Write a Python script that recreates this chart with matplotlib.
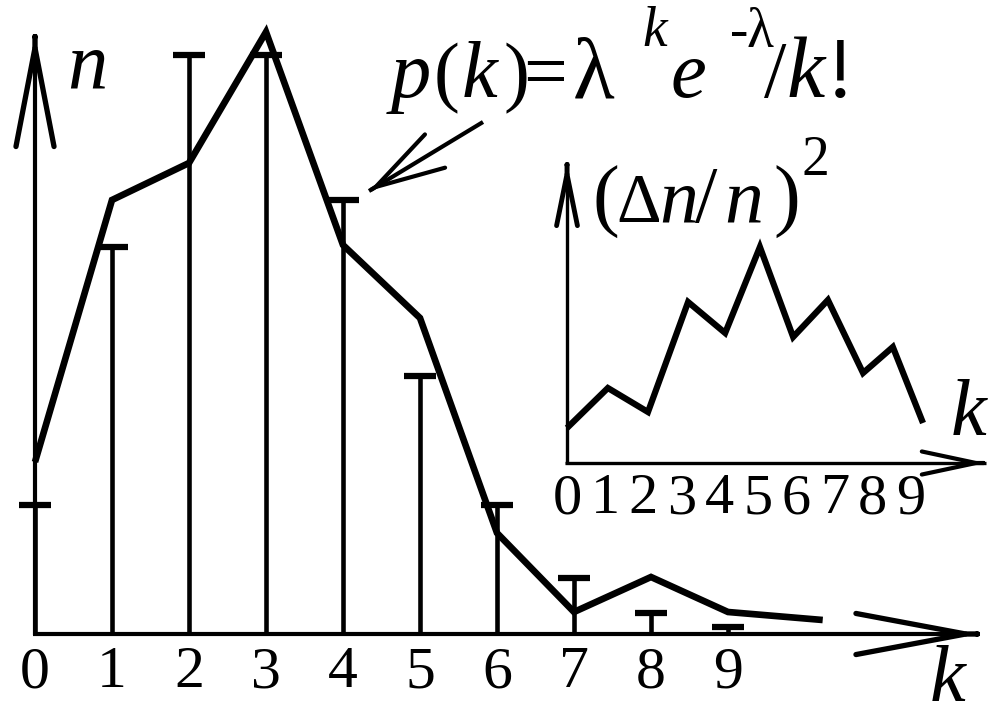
import numpy as np
import matplotlib.pyplot as plt

# main chart: counts n(k) (bars with caps) and Poisson curve p(k)
k_bars = [0, 1, 2, 3, 4, 5, 6, 7, 8, 9]
n_bars = [1.28, 3.86, 5.78, 5.78, 4.33, 2.57, 1.28, 0.55, 0.20, 0.06]
k_curve = [0, 1, 2, 3, 4, 5, 6, 7, 8, 9, 10.23]
n_curve = [1.71, 4.33, 4.70, 6.01, 3.88, 3.15, 1.00, 0.21, 0.56, 0.21, 0.13]
main_ticks = [0, 1, 2, 3, 4, 5, 6, 7, 8, 9]

# inset: relative fluctuation (dn/n)^2
inset_k = [0, 1.07, 2.12, 3.17, 4.14, 5.05, 5.92, 6.83, 7.75, 8.53, 9.32]
inset_v = [0.34, 0.74, 0.50, 1.60, 1.29, 2.15, 1.25, 1.62, 0.89, 1.15, 0.39]
inset_ticks = [0, 1, 2, 3, 4, 5, 6, 7, 8, 9]

W, H = 989, 714
SERIF = 'Liberation Serif'

fig = plt.figure(figsize=(W / 100, H / 100), dpi=100)
fig.patch.set_facecolor('white')

# main axes, scaled so that the data sits where the sketch puts it
ax = fig.add_axes([0, 0, 1, 1])
ax.set_xlim(-35 / 77, (W - 35) / 77)
ax.set_ylim(-(H - 633) / 100, 633 / 100)
ax.axis('off')

ax.vlines(k_bars, 0, n_bars, color='black', lw=3.3)
ax.hlines(n_bars, np.array(k_bars) - 0.21, np.array(k_bars) + 0.21, color='black', lw=4.5)
ax.plot(k_curve, n_curve, color='black', lw=4.8, solid_joinstyle='miter', solid_capstyle='butt')
for t in main_ticks:
    ax.text(t, -0.54, str(t), ha='center', va='baseline', fontsize=43, family=SERIF)

# inset axes
ins = fig.add_axes([0, 0, 1, 1])
ins.set_xlim(-567 / 38.2, (W - 567) / 38.2)
ins.set_ylim(-(H - 462) / 100, 462 / 100)
ins.axis('off')
ins.patch.set_alpha(0)
ins.plot(inset_k, inset_v, color='black', lw=4.5, solid_joinstyle='miter', solid_capstyle='butt')
for t in inset_ticks:
    ins.text(t, -0.51, str(t), ha='center', va='baseline', fontsize=42, family=SERIF)

# overlay in pixel coordinates for axis arrows and labels
ov = fig.add_axes([0, 0, 1, 1])
ov.set_xlim(0, W)
ov.set_ylim(H, 0)
ov.axis('off')
ov.patch.set_alpha(0)


def arrow(tip, tail, lw, head_lw, hl, hw):
    # shaft, then an open head drawn a little heavier
    ov.plot([tail[0], tip[0]], [tail[1], tip[1]], color='black', lw=lw, solid_capstyle='butt')
    d = np.array(tip, float) - np.array(tail, float)
    d /= np.hypot(*d)
    start = np.array(tip) - d * 3
    ov.annotate('', xy=tip, xytext=tuple(start),
                arrowprops=dict(arrowstyle='->,head_length=%g,head_width=%g' % (hl, hw),
                                lw=head_lw, color='black', shrinkA=0, shrinkB=0,
                                mutation_scale=10))


arrow((35, 34), (35, 635), 3.0, 3.8, 7.1, 1.37)
arrow((980, 634), (33, 634), 3.0, 3.8, 7.9, 1.48)
arrow((567, 162), (567, 464), 2.4, 3.5, 3.7, 0.75)
arrow((986, 463), (565, 463), 2.4, 3.0, 3.9, 0.83)
arrow((369, 191), (483, 122), 3.0, 3.0, 5.0, 1.4)


def txt(x, y, s, size, italic=False):
    ov.text(x, y, s, fontsize=size, family=SERIF, style='italic' if italic else 'normal',
            ha='left', va='baseline')


# axis names
txt(67, 87, 'n', 58, True)
txt(930, 701, 'k', 58, True)
txt(951, 435, 'k', 58, True)

# formula p(k) = lambda^k e^-lambda / k!
txt(391, 97, 'p', 58, True)
txt(434, 97, '(', 56)
txt(462, 97, 'k', 58, True)
txt(504, 97, ')', 56)
txt(523, 97, '=', 56)
txt(573, 97, 'λ', 62)
txt(642, 46, 'k', 40, True)
txt(671, 97, 'e', 58, True)
txt(730, 47, '-', 40)
txt(747, 47, 'λ', 40)
txt(764, 97, '/', 58)
txt(787, 97, 'k', 62, True)
txt(826, 97, '!', 62)

# inset label (dn/n)^2
txt(592, 222, '(', 58)
txt(616, 222, 'Δ', 50)
txt(659, 222, 'n', 56, True)
txt(695, 222, '/', 58)
txt(724, 222, 'n', 56, True)
txt(773, 222, ')', 58)
txt(802, 175, '2', 40)

fig.savefig('out.png', dpi=100)
